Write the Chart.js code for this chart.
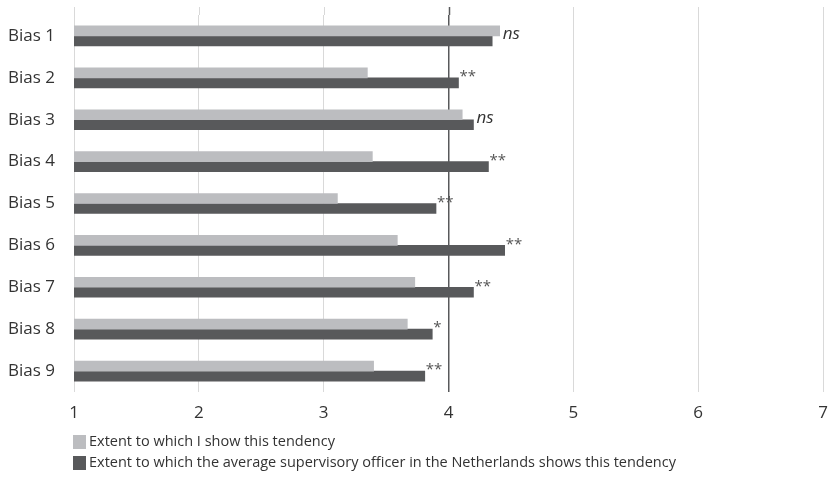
<!DOCTYPE html>
<html>
<head>
<meta charset="utf-8">
<script src="https://cdn.jsdelivr.net/npm/chart.js@4"></script>
<style>
  html, body { margin: 0; padding: 0; background: #fff; }
  #wrap { width: 829px; height: 486px; }
</style>
</head>
<body>
<div id="wrap"><canvas id="chart" width="829" height="486"></canvas></div>
<script>
const categories = ['Bias 1', 'Bias 2', 'Bias 3', 'Bias 4', 'Bias 5', 'Bias 6', 'Bias 7', 'Bias 8', 'Bias 9'];
const selfScores = [4.41, 3.35, 4.11, 3.39, 3.11, 3.59, 3.73, 3.67, 3.40];
const averageScores = [4.35, 4.08, 4.20, 4.32, 3.90, 4.45, 4.20, 3.87, 3.81];
const significance = ['ns', '**', 'ns', '**', '**', '**', '**', '*', '**'];
const seriesLabels = [
  'Extent to which I show this tendency',
  'Extent to which the average supervisory officer in the Netherlands shows this tendency'
];
const xTicks = [1, 2, 3, 4, 5, 6, 7];

const FONT = "'Open Sans', sans-serif";
const LIGHT = '#bcbdc0';
const DARK = '#58595b';

// significance marks next to the bar ends
const sigLabels = {
  id: 'sigLabels',
  afterDatasetsDraw(chart) {
    const ctx = chart.ctx;
    const x = chart.scales.x;
    const y = chart.scales.y;
    ctx.save();
    ctx.textBaseline = 'middle';
    ctx.textAlign = 'left';
    significance.forEach((s, i) => {
      const cy = y.getPixelForValue(i);
      if (s === 'ns') {
        ctx.fillStyle = '#333';
        ctx.font = 'italic 17px ' + FONT;
        const end = x.getPixelForValue(Math.max(selfScores[i], averageScores[i]));
        ctx.fillText(s, end + 3, cy - 2);
      } else {
        ctx.fillStyle = '#555';
        ctx.font = '15px ' + FONT;
        const end = x.getPixelForValue(averageScores[i]);
        ctx.fillText(s, end + 1, cy - 1);
      }
    });
    ctx.restore();
  }
};

// gridlines run a little above the plot area, and the legend sits below
const extras = {
  id: 'extras',
  beforeDatasetsDraw(chart) {
    const ctx = chart.ctx;
    const x = chart.scales.x;
    const top = chart.chartArea.top;
    ctx.save();
    xTicks.forEach(v => {
      const px = x.getPixelForValue(v);
      ctx.strokeStyle = v === 4 ? DARK : '#d9d9d9';
      ctx.lineWidth = v === 4 ? 1.5 : 1;
      ctx.beginPath();
      ctx.moveTo(Math.round(px) + 0.5, top - 8);
      ctx.lineTo(Math.round(px) + 0.5, top);
      ctx.stroke();
    });
    ctx.restore();
  },
  afterDraw(chart) {
    const ctx = chart.ctx;
    const left = chart.chartArea.left - 1;
    const base = chart.chartArea.bottom + 50;
    ctx.save();
    ctx.font = '14.5px ' + FONT;
    ctx.textBaseline = 'middle';
    ctx.textAlign = 'left';
    [LIGHT, DARK].forEach((c, i) => {
      const cy = base + i * 21;
      ctx.fillStyle = c;
      ctx.fillRect(left, cy - 7, 13, 14);
      ctx.fillStyle = '#333';
      ctx.fillText(seriesLabels[i], left + 16, cy);
    });
    ctx.restore();
  }
};

new Chart(document.getElementById('chart').getContext('2d'), {
  type: 'bar',
  data: {
    labels: categories,
    datasets: [
      { label: seriesLabels[0], data: selfScores, backgroundColor: LIGHT, barThickness: 10 },
      { label: seriesLabels[1], data: averageScores, backgroundColor: DARK, barThickness: 10 }
    ]
  },
  options: {
    indexAxis: 'y',
    responsive: false,
    animation: false,
    layout: { padding: { top: 15, left: 8, right: 6, bottom: 64 } },
    plugins: {
      legend: { display: false },
      tooltip: { enabled: false }
    },
    scales: {
      x: {
        type: 'linear',
        min: 1,
        max: 7,
        afterFit(scale) {
          scale.height = 30;
          scale.paddingLeft = 0;
          scale.paddingRight = 0;
        },
        afterBuildTicks(scale) { scale.ticks = xTicks.map(v => ({ value: v })); },
        border: { display: false },
        grid: {
          drawTicks: false,
          color: ctx => ctx.tick && ctx.tick.value === 4 ? DARK : '#d9d9d9',
          lineWidth: ctx => ctx.tick && ctx.tick.value === 4 ? 1.5 : 1
        },
        ticks: { padding: 11, color: '#333', font: { family: FONT, size: 17 } }
      },
      y: {
        afterFit(scale) { scale.width = 66; },
        border: { display: false },
        grid: { display: false },
        ticks: { crossAlign: 'far', color: '#333', font: { family: FONT, size: 17 } }
      }
    }
  },
  plugins: [sigLabels, extras]
});
</script>
</body>
</html>
